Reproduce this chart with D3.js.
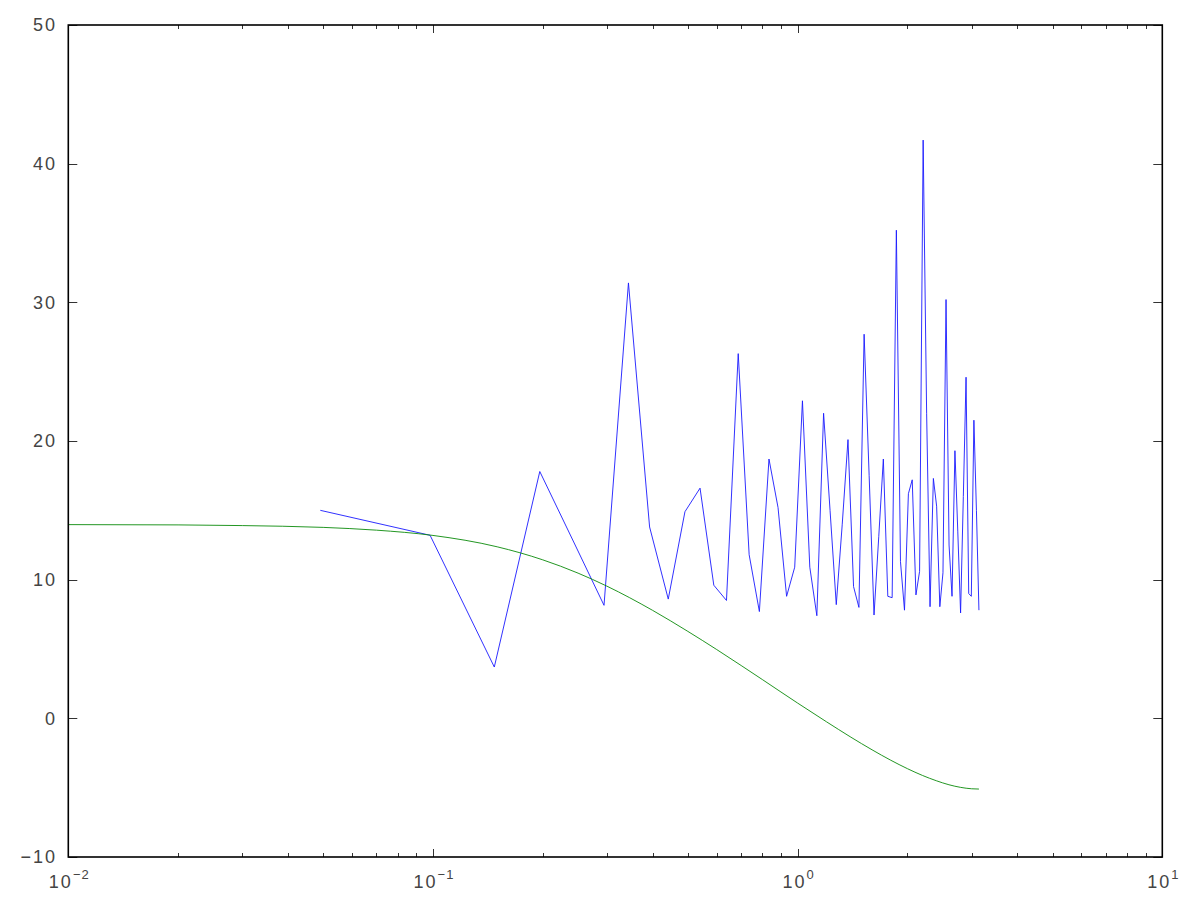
<!DOCTYPE html>
<html>
<head>
<meta charset="utf-8">
<script src="https://cdn.jsdelivr.net/npm/d3@7"></script>
<style>
  body { margin: 0; background: #fff; }
  text { font-family: "Liberation Sans", Arial, sans-serif; fill: #444; }
</style>
</head>
<body>
<svg id="chart"></svg>
<script>
// frequencies of the periodogram (rad), k = 1..64
var freqs = [0.0491, 0.0982, 0.1473, 0.1963, 0.2454, 0.2945, 0.3436, 0.3927,
  0.4418, 0.4909, 0.5400, 0.5890, 0.6381, 0.6872, 0.7363, 0.7854,
  0.8345, 0.8836, 0.9327, 0.9817, 1.0308, 1.0799, 1.1290, 1.1781,
  1.2272, 1.2763, 1.3254, 1.3744, 1.4235, 1.4726, 1.5217, 1.5708,
  1.6199, 1.6690, 1.7181, 1.7671, 1.8162, 1.8653, 1.9144, 1.9635,
  2.0126, 2.0617, 2.1108, 2.1598, 2.2089, 2.2580, 2.3071, 2.3562,
  2.4053, 2.4544, 2.5035, 2.5525, 2.6016, 2.6507, 2.6998, 2.7489,
  2.7980, 2.8471, 2.8962, 2.9452, 2.9943, 3.0434, 3.0925, 3.1416];
// periodogram in dB (blue)
var periodogram = [15.0, 13.2, 3.7, 17.8, 12.5, 8.15, 31.4, 13.8,
  8.6, 14.9, 16.6, 9.6, 8.5, 26.3, 11.8, 7.7,
  18.7, 15.2, 8.8, 10.9, 22.9, 10.9, 7.4, 22.0,
  15.0, 8.2, 14.0, 20.1, 9.5, 8.0, 27.7, 17.5,
  7.45, 13.1, 18.7, 8.8, 8.7, 35.2, 11.3, 7.8,
  16.2, 17.2, 8.9, 10.6, 41.7, 22.0, 8.05, 17.3,
  15.3, 8.05, 10.5, 30.2, 12.5, 8.8, 19.3, 13.5,
  7.6, 16.0, 24.6, 9.0, 8.8, 21.5, 15.0, 7.8];
// smooth spectrum (green)
var specFreq = [0.01, 0.02, 0.03, 0.05, 0.07, 0.1, 0.15, 0.2, 0.25, 0.3, 0.4, 0.5,
  0.6, 0.7, 0.8, 0.9, 1.0, 1.2, 1.4, 1.6, 1.8, 2.0, 2.2, 2.4, 2.6, 2.8, 3.0, 3.1416];
var specDb = [13.97, 13.95, 13.90, 13.77, 13.57, 13.19, 12.37, 11.43, 10.47, 9.53, 7.79, 6.27,
  4.96, 3.81, 2.80, 1.90, 1.10, -0.25, -1.36, -2.27, -3.02, -3.63, -4.12, -4.50, -4.79, -4.98, -5.08, -5.10];
var yTicks = [-10, 0, 10, 20, 30, 40, 50];
var xDecades = [-2, -1, 0, 1];

var svg = d3.select("#chart").attr("width", 1200).attr("height", 900),
    plotL = 68.3, plotR = 1162.3, plotT = 25, plotB = 857;

var x = d3.scaleLog().domain([0.01, 10]).range([plotL, plotR]);
var y = d3.scaleLinear().domain([-10, 50]).range([plotB, plotT]);

// minor ticks on the log axis
var minor = [];
xDecades.slice(0, 3).forEach(function (d) {
  for (var m = 2; m <= 9; m++) minor.push(m * Math.pow(10, d));
});
var major = xDecades.map(function (d) { return Math.pow(10, d); });

var ticks = svg.append("g").attr("stroke", "#333").attr("stroke-width", 1);
ticks.selectAll(".xmin").data(minor).enter().append("path")
  .attr("d", function (v) {
    var px = Math.round(x(v)) + 0.5;
    return "M" + px + "," + plotB + "v-4M" + px + "," + plotT + "v4";
  });
ticks.selectAll(".xmaj").data(major).enter().append("path")
  .attr("d", function (v) {
    var px = Math.round(x(v)) + 0.5;
    return "M" + px + "," + plotB + "v-8M" + px + "," + plotT + "v8";
  });
ticks.selectAll(".y").data(yTicks).enter().append("path")
  .attr("d", function (v) {
    var py = Math.round(y(v)) + 0.5;
    return "M" + plotL + "," + py + "h9M" + plotR + "," + py + "h-9";
  });

// lines
var line = d3.line()
  .x(function (d) { return x(d[0]); })
  .y(function (d) { return y(d[1]); });

svg.append("path")
  .datum(d3.zip(freqs, periodogram))
  .attr("fill", "none").attr("stroke", "#1a1aff").attr("stroke-width", 0.9)
  .attr("d", line);

svg.append("path")
  .datum(d3.zip(specFreq, specDb))
  .attr("fill", "none").attr("stroke", "#0a8a0a").attr("stroke-width", 0.9)
  .attr("d", line.curve(d3.curveMonotoneX));

// frame
svg.append("rect")
  .attr("x", plotL).attr("y", plotT)
  .attr("width", plotR - plotL).attr("height", plotB - plotT)
  .attr("fill", "none").attr("stroke", "#000").attr("stroke-width", 1.6);

// y labels
svg.selectAll(".ylab").data(yTicks).enter().append("text")
  .attr("x", 57).attr("y", function (v) { return y(v); })
  .attr("dy", "0.36em")
  .attr("text-anchor", "end")
  .style("font-size", "18px").style("letter-spacing", "2px")
  .text(function (v) { return v < 0 ? "\u2212" + Math.abs(v) : v; });

// x labels 10^d
var xl = svg.selectAll(".xlab").data(xDecades).enter().append("text")
  .attr("x", function (d) { return x(Math.pow(10, d)) + 1; })
  .attr("y", 888)
  .attr("text-anchor", "middle")
  .style("font-size", "18px").style("letter-spacing", "2px");
xl.append("tspan").text("10");
xl.append("tspan")
  .attr("dy", -9)
  .style("font-size", "13px").style("letter-spacing", "1px")
  .text(function (d) { return d < 0 ? "\u2212" + Math.abs(d) : d; });
</script>
</body>
</html>
